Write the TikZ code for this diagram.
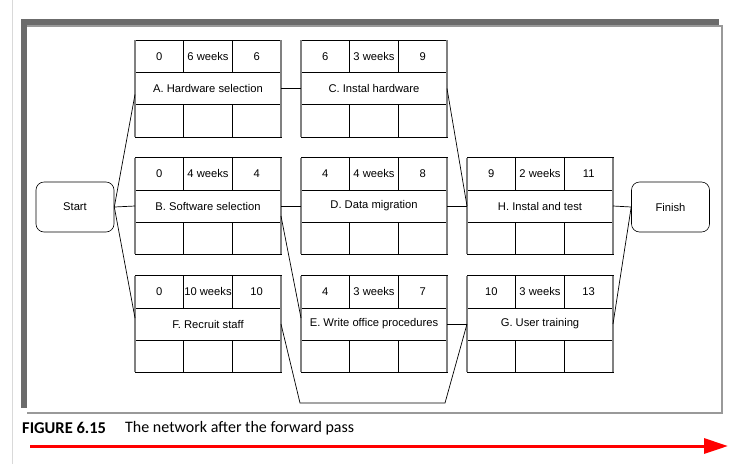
\documentclass[tikz,border=0pt]{standalone}
\usepackage{fontspec}
\setmainfont{Liberation Sans}
\newfontfamily\capfont{Carlito}
\usetikzlibrary{positioning,arrows.meta}

\tikzset{
  cell/.style={draw,rectangle,line width=0.6pt,minimum width=48.67pt,minimum height=32.3pt,
    inner sep=0pt,outer sep=0pt,font=\fontsize{11.2}{13}\selectfont},
  lbl/.style={cell,minimum width=146pt},
  terminal/.style={draw,line width=0.6pt,rounded corners=8pt,minimum width=78pt,minimum height=50pt,
    font=\fontsize{11.2}{13}\selectfont},
  link/.style={draw,line width=0.7pt},
  side/.style={draw,gray,line width=1.1pt}
}

% activity box: name, x, y, early start, duration, early finish, label
\newcommand{\activity}[7]{
  \node[lbl] (#1) at (#2,#3) {#7};
  \node[cell,anchor=south west] (#1es) at (#1.north west) {#4};
  \node[cell,right=0pt of #1es] (#1du) {#5};
  \node[cell,right=0pt of #1du] (#1ef) {#6};
  \node[cell,anchor=north west] (#1b1) at (#1.south west) {};
  \node[cell,right=0pt of #1b1] (#1b2) {};
  \node[cell,right=0pt of #1b2] (#1b3) {};
  \draw[side] (#1es.north west) -- (#1b1.south west);
  \draw[side] (#1ef.north east) -- (#1b3.south east);
}

\begin{document}
\begin{tikzpicture}[x=1pt,y=-1pt]
\useasboundingbox (0,0) rectangle (744,464);

% page edge and frame
\draw[gray!30,line width=1pt] (12,0) -- (12,464);
\fill[black!58] (21,19) rectangle (719,26);
\fill[black!58] (21,19) rectangle (27,408);
\draw[gray!80,line width=1.2pt] (27,26) -- (722,26) -- (722,413) -- (27,413);

% terminals
\node[terminal] (Start) at (75,207) {Start};
\node[terminal] (Finish) at (670.5,207) {Finish};

% activities
\activity{A}{208}{88.5}{0}{6 weeks}{6}{A. Hardware selection}
\activity{B}{208}{206}{0}{4 weeks}{4}{B. Software selection}
\activity{F}{208}{324}{0}{10 weeks}{10}{F. Recruit staff}
\activity{C}{374}{88.5}{6}{3 weeks}{9}{C. Instal hardware}
\activity{D}{374}{206}{4}{4 weeks}{8}{D. Data migration}
\activity{E}{374}{324}{4}{3 weeks}{7}{E. Write office procedures}
\activity{H}{540}{206}{9}{2 weeks}{11}{H. Instal and test}
\activity{G}{540}{324}{10}{3 weeks}{13}{G. User training}

% dependencies
\coordinate (fg1) at (300,403);
\coordinate (fg2) at (445,403);
\draw[link] (Start.east) -- ([yshift=-6pt]A.west);
\draw[link] (Start.east) -- (B.west);
\draw[link] (Start.east) -- ([yshift=6pt]F.west);
\draw[link] (A.east) -- (C.west);
\draw[link] (B.east) -- (D.west);
\draw[link] ([yshift=-10pt]B.east) -- ([yshift=6pt]E.west);
\draw[link] (F.east) -- (fg1) -- (fg2) -- (G.west);
\draw[link] (C.east) -- (H.west);
\draw[link] (D.east) -- (H.west);
\draw[link] (E.east) -- (G.west);
\draw[link] (H.east) -- (Finish.west);
\draw[link] (G.east) -- (Finish.west);

% caption
\node[anchor=west,inner sep=0pt,font=\capfont\bfseries\fontsize{16.5}{18}\selectfont] (fig) at (22,428) {FIGURE 6.15};
\node[anchor=west,inner sep=0pt,font=\capfont\fontsize{16}{18}\selectfont] (cap) at (125,428) {The network after the forward pass};
\coordinate (arrS) at (30,446);
\coordinate (arrE) at (728,446);
\draw[red,line width=3pt,-{Triangle[length=24pt,width=15pt]}] (arrS) -- (arrE);
\end{tikzpicture}
\end{document}
